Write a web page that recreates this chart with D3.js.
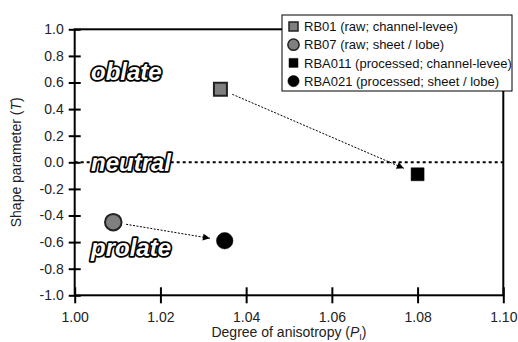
<!DOCTYPE html>
<html>
<head>
<meta charset="utf-8">
<script src="https://cdn.jsdelivr.net/npm/d3@7"></script>
<style>
  body { margin: 0; background: #fff; }
  svg { font-family: "Liberation Sans", Arial, sans-serif; }
</style>
</head>
<body>
<script>
// samples: degree of anisotropy (P_I) vs shape parameter (T)
const names = ["RB01", "RB07", "RBA011", "RBA021"];
const legendLabels = [
  "RB01 (raw; channel-levee)",
  "RB07 (raw; sheet / lobe)",
  "RBA011 (processed; channel-levee)",
  "RBA021 (processed; sheet / lobe)"
];
const pValues = [1.034, 1.009, 1.080, 1.035];
const tValues = [0.55, -0.45, -0.09, -0.59];
const shapes = ["square", "circle", "square", "circle"];
const fills = ["#7f7f7f", "#7f7f7f", "#000", "#000"];
// raw -> processed
const arrows = [["RB01", "RBA011"], ["RB07", "RBA021"]];
const xTicks = [1.00, 1.02, 1.04, 1.06, 1.08, 1.10];
const yTicks = [-1.0, -0.8, -0.6, -0.4, -0.2, 0.0, 0.2, 0.4, 0.6, 0.8, 1.0];
const zones = [["oblate", 0.68], ["neutral", 0.0], ["prolate", -0.64]];

const width = 518, height = 342;
const x = d3.scaleLinear().domain([1.00, 1.10]).range([74.7, 503.3]);
const y = d3.scaleLinear().domain([-1, 1]).range([295.3, 29.3]);

const svg = d3.select("body").append("svg")
  .attr("width", width)
  .attr("height", height);

svg.append("defs").append("marker")
  .attr("id", "arrowhead")
  .attr("viewBox", "0 0 10 10")
  .attr("refX", 10).attr("refY", 5)
  .attr("markerWidth", 10).attr("markerHeight", 7)
  .attr("markerUnits", "userSpaceOnUse")
  .attr("orient", "auto")
  .append("path")
  .attr("d", "M0,0L10,5L0,10Z")
  .attr("fill", "#000");

// neutral line
svg.append("line")
  .attr("x1", x(1.00)).attr("x2", x(1.10))
  .attr("y1", y(0)).attr("y2", y(0))
  .attr("stroke", "#000")
  .attr("stroke-width", 2)
  .attr("stroke-dasharray", "3,3");

// frame
svg.append("rect")
  .attr("x", x(1.00)).attr("y", y(1))
  .attr("width", x(1.10) - x(1.00))
  .attr("height", y(-1) - y(1))
  .attr("fill", "none")
  .attr("stroke", "#000")
  .attr("stroke-width", 2);

const xAxis = svg.append("g")
  .attr("transform", `translate(0,${y(-1)})`)
  .call(d3.axisBottom(x).tickValues(xTicks).tickFormat(d => d.toFixed(2))
    .tickSizeInner(8).tickSizeOuter(0).tickPadding(9));
xAxis.select(".domain").remove();
xAxis.selectAll(".tick line").attr("y1", -8).attr("stroke-width", 2);
xAxis.selectAll("text").attr("font-size", 14).attr("fill", "#222")
  .attr("font-family", "Liberation Sans, Arial, sans-serif");

const yAxis = svg.append("g")
  .attr("transform", `translate(${x(1.00)},0)`)
  .call(d3.axisLeft(y).tickValues(yTicks).tickFormat(d => d.toFixed(1))
    .tickSizeInner(6).tickSizeOuter(0).tickPadding(5));
yAxis.select(".domain").remove();
yAxis.selectAll(".tick line").attr("x1", 6).attr("stroke-width", 2);
yAxis.selectAll("text").attr("font-size", 14).attr("fill", "#222")
  .attr("font-family", "Liberation Sans, Arial, sans-serif");

// axis titles
const xt = svg.append("text")
  .attr("x", (x(1.00) + x(1.10)) / 2).attr("y", 337)
  .attr("text-anchor", "middle")
  .attr("font-size", 14).attr("fill", "#222");
xt.append("tspan").text("Degree of anisotropy (");
xt.append("tspan").attr("font-style", "italic").text("P");
xt.append("tspan").attr("font-size", 9).attr("dy", 2.5).text("I");
xt.append("tspan").attr("dy", -2.5).text(")");

const yt = svg.append("text")
  .attr("transform", `translate(20.5,${(y(1) + y(-1)) / 2}) rotate(-90)`)
  .attr("text-anchor", "middle")
  .attr("font-size", 14).attr("fill", "#222");
yt.append("tspan").text("Shape parameter (");
yt.append("tspan").attr("font-style", "italic").text("T");
yt.append("tspan").text(")");

// zone labels, white with black outline
svg.selectAll(".zone")
  .data(zones)
  .enter().append("text")
  .attr("class", "zone")
  .attr("x", 91)
  .attr("y", d => y(d[1]))
  .attr("dy", "0.35em")
  .attr("font-size", 24)
  .attr("font-weight", "bold")
  .attr("font-style", "italic")
  .attr("fill", "#fff")
  .attr("stroke", "#000")
  .attr("stroke-width", 3.5)
  .attr("stroke-linejoin", "round")
  .attr("paint-order", "stroke")
  .text(d => d[0]);

// arrows between raw and processed
const pos = name => {
  const i = names.indexOf(name);
  return [x(pValues[i]), y(tValues[i])];
};
arrows.forEach(([from, to]) => {
  const a = pos(from), b = pos(to);
  const dx = b[0] - a[0], dy = b[1] - a[1];
  const len = Math.hypot(dx, dy);
  svg.append("line")
    .attr("x1", a[0] + dx / len * 13).attr("y1", a[1] + dy / len * 13)
    .attr("x2", b[0] - dx / len * 15).attr("y2", b[1] - dy / len * 15)
    .attr("stroke", "#000")
    .attr("stroke-width", 1)
    .attr("stroke-dasharray", "2,1.5")
    .attr("marker-end", "url(#arrowhead)");
});

// points
const sym = (shape, size) => d3.symbol()
  .type(shape === "square" ? d3.symbolSquare : d3.symbolCircle)
  .size(size)();

svg.selectAll(".pt")
  .data(names)
  .enter().append("path")
  .attr("class", "pt")
  .attr("transform", (d, i) => `translate(${x(pValues[i])},${y(tValues[i])})`)
  .attr("d", (d, i) => sym(shapes[i], shapes[i] === "square" ? 169 : 215))
  .attr("fill", (d, i) => fills[i])
  .attr("stroke", (d, i) => i < 2 ? "#222" : "#000")
  .attr("stroke-width", (d, i) => i < 2 ? 2 : 0.5);

// legend
const legend = svg.append("g")
  .attr("transform", "translate(282,15)");
legend.append("rect")
  .attr("width", 230).attr("height", 76)
  .attr("fill", "#fff")
  .attr("stroke", "#000")
  .attr("stroke-width", 1);

const item = legend.selectAll(".item")
  .data(legendLabels)
  .enter().append("g")
  .attr("class", "item")
  .attr("transform", (d, i) => `translate(0,${11.5 + i * 18.2})`);
item.append("path")
  .attr("transform", "translate(11.5,0)")
  .attr("d", (d, i) => sym(shapes[i], shapes[i] === "square" ? 81 : 100))
  .attr("fill", (d, i) => fills[i])
  .attr("stroke", (d, i) => i < 2 ? "#222" : "#000")
  .attr("stroke-width", (d, i) => i < 2 ? 1.5 : 0.5);
item.append("text")
  .attr("x", 22)
  .attr("dy", "0.36em")
  .attr("font-size", 13)
  .attr("fill", "#111")
  .text(d => d);
</script>
</body>
</html>
